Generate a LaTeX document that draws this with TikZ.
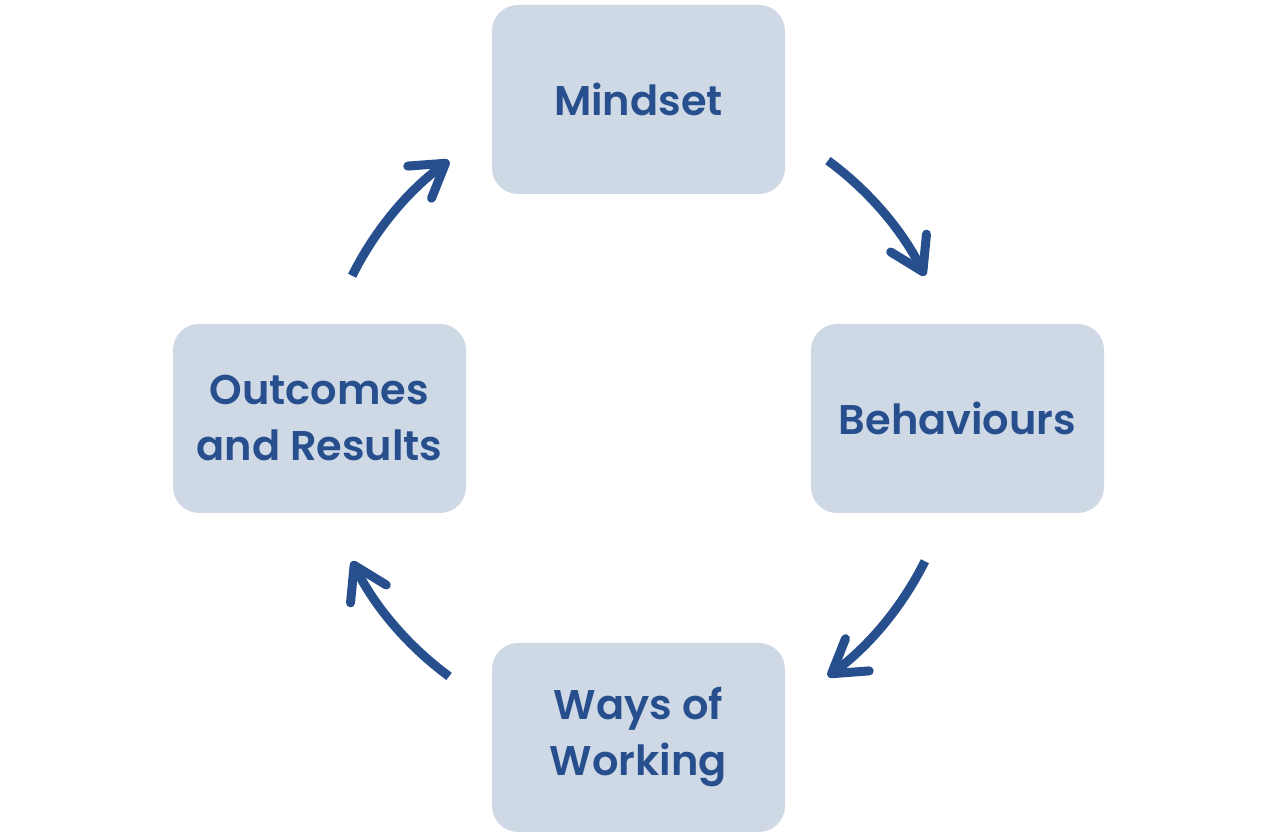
\documentclass[tikz,border=0pt]{standalone}
\usepackage{fontspec}
\setmainfont{Poppins}[UprightFont={* SemiBold}]
\usetikzlibrary{arrows.meta}
\definecolor{boxfill}{HTML}{CFD9E5}
\definecolor{ink}{HTML}{274F8E}
\begin{document}
\begin{tikzpicture}[x=1pt,y=1pt,
  stage/.style={fill=boxfill, rounded corners=26pt, minimum width=293pt, minimum height=189pt,
    text=ink, align=center, font=\fontsize{41.5}{56}\selectfont, inner sep=0pt},
  cyc/.style={draw=ink, line width=9pt,
    -{Straight Barb[length=32pt,width=40pt,round]}}]
\useasboundingbox (0,0) rectangle (1275,835);
\coordinate (c) at (638.5,416.5);
\node[stage] (mind) at (638.5,735.5) {Mindset};
\node[stage] (beh) at (957.5,416.5) {Behaviours};
\node[stage] (out) at (319.5,416.5) {Outcomes\\and Results};
\node[stage, text depth=12pt] (ways) at (638.5,97.5) {Ways of\\Working};
\draw[cyc] ([shift={(53.7:320)}]c) arc[start angle=53.7, end angle=26.5, radius=320];
\draw[cyc] ([shift={(-26.5:320)}]c) arc[start angle=-26.5, end angle=-53.7, radius=320];
\draw[cyc] ([shift={(233.7:320)}]c) arc[start angle=233.7, end angle=206.5, radius=320];
\draw[cyc] ([shift={(153.5:320)}]c) arc[start angle=153.5, end angle=126.3, radius=320];
\end{tikzpicture}
\end{document}
